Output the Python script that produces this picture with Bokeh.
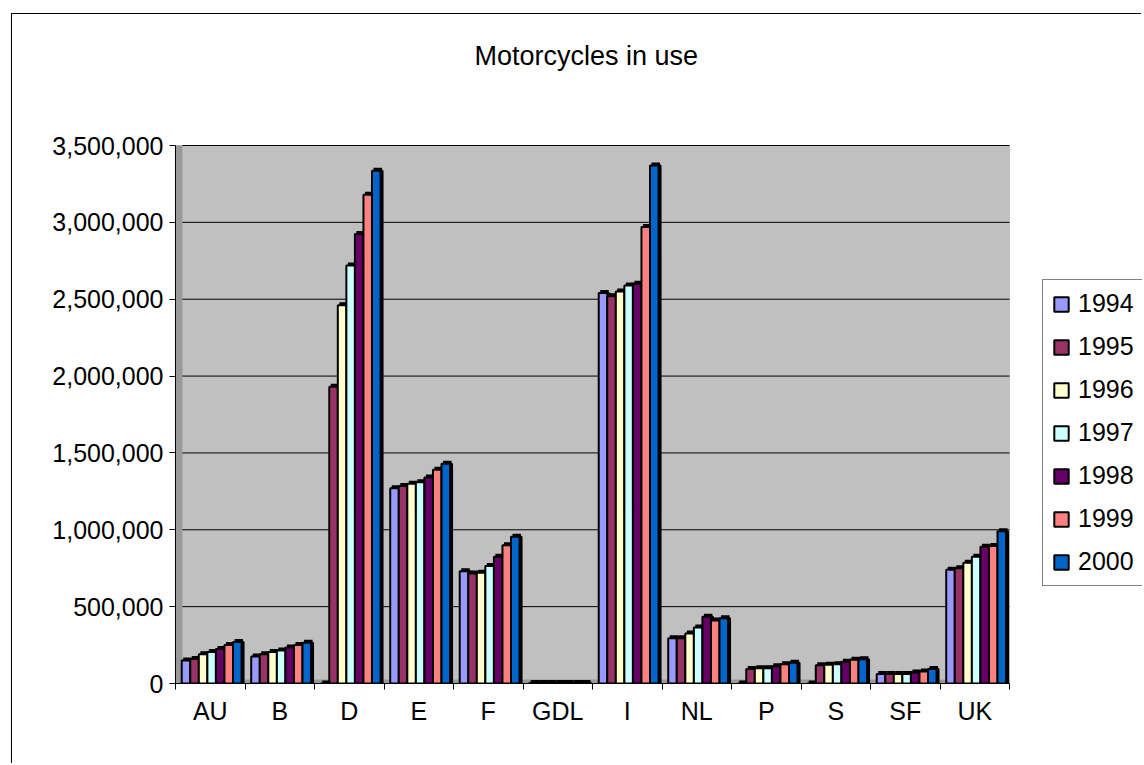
from bokeh.plotting import figure
from bokeh.models import Range1d, FixedTicker, NumeralTickFormatter, Legend, LegendItem, BoxAnnotation, Label
from bokeh.embed import file_html
from bokeh.resources import INLINE

countries = ["AU", "B", "D", "E", "F", "GDL", "I", "NL", "P", "S", "SF", "UK"]
years = ["1994", "1995", "1996", "1997", "1998", "1999", "2000"]
colors = ["#9999FF", "#993366", "#FFFFCC", "#CCFFFF", "#660066", "#FF8080", "#0066CC"]

y1994 = [150000, 175000, 0, 1270000, 730000, 3000, 2540000, 295000, 0, 0, 62000, 740000]
y1995 = [160000, 190000, 1930000, 1285000, 715000, 3000, 2520000, 295000, 95000, 118000, 62000, 750000]
y1996 = [190000, 205000, 2460000, 1300000, 720000, 3000, 2550000, 325000, 100000, 122000, 62000, 785000]
y1997 = [205000, 215000, 2720000, 1310000, 765000, 3000, 2590000, 365000, 100000, 125000, 62000, 825000]
y1998 = [225000, 235000, 2925000, 1340000, 825000, 3000, 2600000, 435000, 112000, 142000, 72000, 890000]
y1999 = [250000, 250000, 3180000, 1390000, 900000, 3000, 2970000, 410000, 125000, 155000, 78000, 895000]
y2000 = [270000, 265000, 3335000, 1430000, 955000, 3000, 3370000, 425000, 135000, 158000, 95000, 990000]
series = [y1994, y1995, y1996, y1997, y1998, y1999, y2000]
y_ticks = list(range(0, 3500001, 500000))

FONT = "Liberation Sans"
YMAX = 3500000
N = len(countries)

# layout (pixels): canvas 1130x750; plot area 834x538, frame extended to hold title and legend
CW, CH = 1130, 750
LEFT, BOTTOM = 163, 81
PLOT_W, PLOT_H = 834, 538
FRAME_W, FRAME_H = CW - LEFT, CH - BOTTOM
x_end = N * FRAME_W / PLOT_W
y_end = YMAX * FRAME_H / PLOT_H
px_x = N / PLOT_W          # data units per pixel, x
px_y = YMAX / PLOT_H       # data units per pixel, y

p = figure(width=CW, height=CH, output_backend="svg", toolbar_location=None,
           x_range=Range1d(0, x_end), y_range=Range1d(0, y_end),
           min_border_left=LEFT, min_border_right=0, min_border_top=0, min_border_bottom=BOTTOM,
           background_fill_color="white", border_fill_color="white")
p.styles = {"margin-left": "11px", "margin-top": "13px",
            "border-left": "1px solid black", "border-top": "1px solid black"}
p.outline_line_color = None
p.xgrid.grid_line_color = None
p.ygrid.grid_line_color = None

# plot area (back wall), side wall and floor
p.add_layout(BoxAnnotation(left=0, right=N, bottom=0, top=YMAX, fill_color="#C0C0C0", fill_alpha=1,
                           line_color="#808080", line_width=1, level="underlay"))
p.add_layout(BoxAnnotation(left=0, right=0.1, bottom=0, top=YMAX, fill_color="#999999", fill_alpha=1,
                           line_color=None, level="underlay"))
p.add_layout(BoxAnnotation(left=0, right=N, bottom=0, top=4 * px_y, fill_color="#999999", fill_alpha=1,
                           line_color=None, level="underlay"))

# grid lines over the plot area only
p.segment(x0=[0.1] * len(y_ticks), x1=[N] * len(y_ticks), y0=y_ticks, y1=y_ticks,
          line_color="black", line_width=1)

# title
p.add_layout(Label(x=N / 2 - 0.09, y=YMAX * 1.167, text="Motorcycles in use",
                   text_font=FONT, text_font_size="27px", text_color="black",
                   text_align="center", text_baseline="middle"))

bw = 0.123
items = []
for j, (yr, vals, col) in enumerate(zip(years, series, colors)):
    xs = [i + 0.52 + (j - 3) * bw for i in range(N)]
    # dark 3D depth (top/side) behind each column
    p.vbar(x=[x + 2 * px_x for x in xs], top=vals, width=bw, bottom=0,
           fill_color="black", line_color="black", line_width=2,
           y_range_name="default")
    p.vbar(x=[x + 1.5 * px_x for x in xs], bottom=[v for v in vals], top=vals, width=bw,
           fill_color="black", line_color="black", line_width=6)
    r = p.vbar(x=xs, top=vals, width=bw, fill_color=col, line_color="black", line_width=2)
    items.append(LegendItem(label=yr, renderers=[r]))

# x axis: labels at centres, tick marks at boundaries
xa = p.xaxis[0]
xa.bounds = (0, N)
xa.ticker = FixedTicker(ticks=[i + 0.5 for i in range(N)], minor_ticks=list(range(N + 1)))
xa.major_label_overrides = {i + 0.5: c for i, c in enumerate(countries)}
xa.major_tick_out = 0
xa.major_tick_in = 0
xa.minor_tick_out = 6
xa.minor_tick_in = 0
xa.minor_tick_line_color = "black"
xa.axis_line_color = "black"
xa.major_label_text_font = FONT
xa.major_label_text_font_size = "25px"
xa.major_label_text_color = "black"
xa.major_label_standoff = 7

ya = p.yaxis[0]
ya.bounds = (0, YMAX)
ya.ticker = FixedTicker(ticks=y_ticks)
ya.formatter = NumeralTickFormatter(format="0,0")
ya.major_tick_out = 6
ya.major_tick_in = 0
ya.minor_tick_out = 0
ya.minor_tick_in = 0
ya.axis_line_color = "black"
ya.major_label_text_font = FONT
ya.major_label_text_font_size = "25px"
ya.major_label_text_color = "black"
ya.major_label_standoff = 6

legend = Legend(items=items, location=(867, 97), border_line_color="black", border_line_width=1,
                background_fill_color="white", background_fill_alpha=1,
                label_text_font=FONT, label_text_font_size="25px", label_text_color="black",
                glyph_height=18, glyph_width=18, label_height=25, spacing=14,
                padding=9, label_standoff=8, margin=0)
p.add_layout(legend)

open("out.html", "w").write(file_html(p, INLINE))
